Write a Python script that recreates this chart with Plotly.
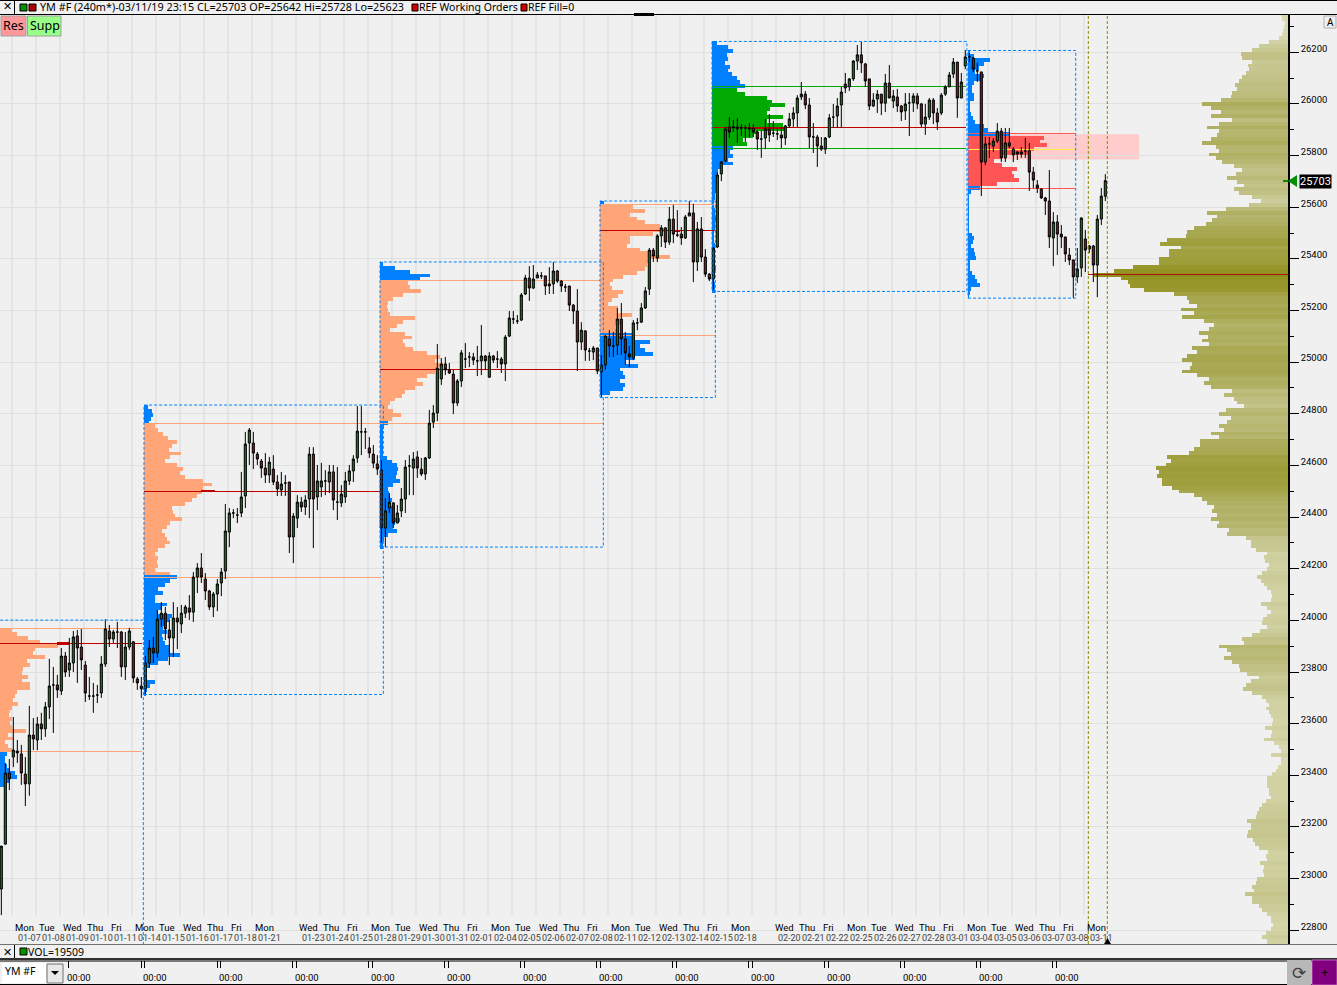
import math
import plotly.graph_objects as go

# ---------- candles (YM #F 240m) ----------
opens = [22960,23134,23409,23471,23494,23483,23405,23367,23556,23537,
23599,23580,23665,23750,23750,23727,23862,23808,23835,23940,
23897,23827,23707,23707,23711,23719,23831,23959,23928,23955,
23955,23820,23897,23917,23773,23746,23735,23835,23893,23874,
24005,24028,23963,23932,24009,23986,24028,24048,24032,24168,
24203,24160,24114,24052,24102,24145,24191,24342,24416,24408,
24416,24482,24687,24687,24644,24617,24590,24563,24586,24536,
24505,24532,24536,24323,24396,24458,24439,24470,24644,24478,
24517,24540,24536,24575,24458,24455,24478,24540,24579,24629,
24730,24730,24668,24644,24606,24582,24358,24435,24455,24377,
24424,24470,24598,24590,24633,24586,24567,24629,24768,24803,
24935,24993,24970,24954,24842,24927,25012,25020,25020,25005,
25005,25024,24942,25024,25012,25012,24993,25101,25167,25159,
25163,25264,25326,25287,25326,25334,25334,25303,25303,25353,
25314,25291,25295,25221,25198,25078,25121,25043,25039,25055,
24962,24989,25090,25063,25066,25167,25090,25032,25016,25152,
25155,25210,25283,25434,25403,25489,25520,25465,25554,25492,
25496,25481,25566,25578,25388,25516,25407,25341,25322,25446,
25729,25779,25911,25907,25911,25907,25907,25907,25907,25891,
25864,25868,25903,25887,25884,25880,25868,25915,25942,25965,
26027,26038,25996,25872,25872,25837,25825,25872,25949,25953,
25996,26077,26066,26097,26166,26190,26155,26097,25992,26019,
26038,26003,26081,26011,26027,25992,25973,26004,26004,26031,
26000,25922,25949,26015,25965,25965,26038,26066,26116,26162,
26023,26147,26182,26178,26128,26124,25775,25845,25837,25856,
25895,25791,25849,25825,25806,25814,25818,25818,25736,25686,
25670,25636,25624,25481,25543,25496,25485,25415,25396,25330,
25365,25477,25438,25450,25376,25554,25643]
highs = [23126,23448,23463,23626,23537,23518,23471,23669,23622,23626,
23642,23684,23851,23820,23789,23893,23878,23932,23959,23963,
23967,23843,23781,23758,23750,23862,24005,23982,23963,23994,
23959,23955,23971,23920,23781,23781,23862,23924,23936,24040,
24071,24052,24002,24071,24052,24060,24060,24098,24187,24222,
24261,24183,24118,24110,24160,24203,24451,24435,24431,24435,
24575,24730,24745,24730,24652,24625,24648,24633,24640,24563,
24575,24563,24536,24416,24485,24478,24485,24671,24671,24602,
24610,24582,24602,24602,24594,24524,24575,24602,24640,24830,
24830,24745,24710,24679,24640,24621,24474,24493,24458,24447,
24513,24621,24640,24652,24656,24629,24633,24815,24834,25070,
25016,25020,24997,24970,24935,25047,25074,25039,25036,25063,
25144,25028,25039,25028,25043,25020,25105,25198,25198,25183,
25268,25338,25372,25376,25349,25349,25334,25368,25388,25357,
25318,25303,25295,25225,25283,25155,25124,25055,25063,25055,
25028,25105,25124,25117,25210,25229,25117,25063,25163,25171,
25229,25291,25442,25442,25496,25531,25523,25601,25609,25589,
25523,25570,25624,25613,25543,25562,25438,25345,25446,25736,
25779,25911,25949,25938,25945,25922,25918,25926,25922,25899,
25899,25942,25961,25934,25907,25911,25918,25965,25988,26034,
26085,26050,26023,25926,25880,25872,25872,25961,26000,26023,
26066,26120,26100,26170,26228,26240,26159,26097,26042,26054,
26038,26116,26151,26054,26058,25996,26042,26042,26042,26042,
26004,26000,26023,26023,25984,26042,26073,26124,26178,26162,
26120,26209,26197,26182,26159,26124,25872,25872,25868,25926,
25907,25907,25907,25833,25818,25833,25868,25849,25756,25705,
25674,25640,25744,25581,25570,25531,25485,25442,25396,25442,
25562,25512,25454,25454,25570,25674,25728]
lows = [22859,23130,23343,23432,23448,23363,23281,23321,23498,23498,
23537,23549,23618,23564,23700,23711,23781,23781,23800,23758,
23808,23684,23692,23642,23680,23700,23820,23897,23913,23893,
23781,23769,23886,23758,23731,23700,23711,23816,23835,23855,
23975,23924,23827,23858,23889,23951,24009,24002,23994,24106,
24145,24079,24040,24013,24036,24094,24160,24284,24396,24377,
24400,24435,24602,24586,24602,24552,24532,24532,24524,24482,
24482,24482,24261,24222,24358,24420,24408,24396,24280,24427,
24478,24485,24493,24427,24389,24439,24455,24524,24536,24610,
24640,24664,24629,24590,24563,24300,24284,24416,24358,24377,
24400,24416,24485,24485,24552,24559,24544,24625,24745,24772,
24912,24950,24954,24799,24830,24904,24977,24981,24989,24946,
24950,24970,24939,24997,24977,24958,24927,25097,25148,25148,
25159,25260,25237,25283,25326,25322,25260,25264,25264,25307,
25272,25272,25198,25148,24966,25047,25005,25005,25008,24954,
24865,24970,25020,25020,25028,25028,24989,24981,25008,25124,
25152,25206,25260,25388,25388,25446,25442,25454,25461,25485,
25454,25477,25566,25310,25353,25388,25330,25314,25279,25442,
25701,25775,25868,25891,25849,25876,25853,25872,25872,25822,
25791,25825,25853,25872,25860,25829,25841,25907,25911,25911,
26015,25980,25829,25810,25756,25818,25806,25868,25907,25907,
25907,26042,26050,26089,26131,26120,26066,25976,25988,25965,
25957,25969,26023,25984,25969,25934,25938,25876,25969,25980,
25911,25880,25938,25922,25899,25957,26031,26066,26100,25946,
26023,26135,26162,26124,26085,25643,25763,25791,25814,25849,
25775,25775,25829,25775,25783,25791,25791,25663,25674,25655,
25632,25570,25442,25372,25415,25442,25388,25376,25249,25307,
25330,25349,25423,25310,25252,25531,25624]
closes = [23126,23409,23386,23498,23487,23409,23367,23556,23541,23599,
23580,23665,23746,23750,23731,23862,23800,23835,23936,23893,
23847,23719,23707,23707,23711,23831,23967,23928,23955,23955,
23820,23897,23959,23777,23758,23735,23835,23893,23874,24005,
24028,23967,23932,24009,23994,24028,24052,24032,24168,24203,
24168,24114,24052,24102,24141,24187,24346,24416,24416,24408,
24478,24683,24737,24648,24625,24590,24563,24613,24536,24509,
24528,24532,24323,24404,24458,24439,24466,24644,24470,24540,
24540,24540,24575,24466,24458,24489,24540,24579,24625,24733,
24730,24730,24648,24609,24586,24358,24424,24458,24377,24416,
24470,24594,24598,24625,24590,24567,24629,24764,24803,24977,
24993,24970,24958,24842,24927,25036,25012,25020,25008,25005,
25024,25005,25024,25008,25012,24993,25097,25171,25167,25159,
25260,25326,25287,25322,25338,25334,25295,25295,25353,25314,
25295,25291,25221,25198,25078,25124,25047,25043,25055,24966,
24989,25101,25063,25063,25167,25090,25036,25020,25152,25152,
25210,25276,25434,25411,25489,25520,25465,25554,25496,25492,
25481,25562,25578,25388,25516,25407,25341,25322,25442,25725,
25775,25903,25891,25911,25903,25907,25907,25903,25891,25864,
25864,25903,25880,25887,25884,25868,25915,25942,25965,26023,
26038,25996,25872,25872,25837,25825,25868,25946,25949,25992,
26046,26062,26097,26166,26190,26159,26089,25992,26015,26038,
26003,26081,26023,26031,25992,25969,26000,26004,26031,26000,
25922,25949,26015,25965,25930,26034,26066,26112,26162,26023,
26085,26182,26182,26135,26128,25775,25845,25845,25856,25895,
25791,25849,25837,25802,25814,25806,25818,25736,25705,25674,
25636,25624,25485,25543,25496,25485,25419,25396,25330,25361,
25558,25434,25450,25376,25554,25643,25703]

# ---------- weekly volume-profile sessions ----------
bin_size = 15
session_start = [-0.33, 35.67, 94.67, 149.67, 177.67, 241.67]
session_end = [35.2, 94.9, 150.3, 178.3, 241.2, 268.5]
box_left = [-3, 35.67, 94.67, 149.67, 177.67, 241.67]
box_right = [35.5, 95.5, 150.5, 178.5, 241.4, 268.6]
box_high = [24001, 24834, 25388, 25624, 26242, 26207]
box_low = [22700, 23713, 24284, 24863, 25274, 25248]
profile_high = [23970, 24834, 25388, 25624, 26242, 26207]
value_high = [23970, 24764, 25318, 25609, 26066, 25884]
poc_price = [23912, 24501, 24973, 25508, 25907, 25825]
value_low = [23494, 24168, 24764, 25105, 25829, 25674]
poc_mark_start = [13.9, 49.9, None, 167.9, 186.4, None]
poc_mark_end = [16.9, 53.4, None, 169.7, 195.9, None]
value_fill = ['#ffa578', '#ffa578', '#ffa578', '#ffa578', '#00aa00', '#ff5555']
level_line = ['#ffa578', '#ffa578', '#ffa578', '#ffa578', '#00aa00', '#ff5555']
poc_line = ['#c00000', '#c00000', '#c00000', '#c00000', '#c00000', '#ffee44']
outside_fill = '#0080ff'

session_volumes = [
 [12,17,28,40,58,35,33,45,27,30,23,22,28,22,30,30,17,15,13,18,12,10,9,12,10,12,26,8,13,5,8,12,7,5,5,7,10,15,17,10,4],
 [4,8,9,7,5,11,14,19,24,33,28,25,37,26,21,33,39,36,41,59,68,59,58,53,48,41,28,29,31,38,26,23,18,21,23,26,21,14,11,14,13,14,11,26,33,26,21,14,19,11,11,23,18,14,28,26,21,19,23,18,19,21,26,26,36,24,14,6,3,2,3,11,6,3,2],
 [3,15,30,50,40,28,30,41,23,13,8,7,8,10,35,23,17,10,25,32,23,25,33,47,60,55,63,58,55,47,37,43,35,25,22,15,10,8,13,21,12,8,4,3,3,3,3,3,3,3,7,12,17,18,17,16,20,13,8,9,10,12,10,15,13,12,20,15,13,17,8,4,3,3],
 [4,33,45,30,37,45,60,65,53,30,30,27,40,50,70,48,47,45,37,23,13,10,12,23,18,12,8,18,17,32,20,23,15,18,33,35,50,40,45,53,35,25,38,20,23,25,20,25,23,10],
 [5,16,21,15,16,13,18,16,20,25,28,33,25,33,55,60,73,58,55,71,55,71,73,46,41,31,35,21,18,21,16,21,10,6,6,5,5,4,4,3,3,2,2,3,3,4,3,3,3,2,2,2,3,3,2,2,3,3,4,3,3,2,3,3,3],
 [2,6,22,16,11,7,16,14,6,4,4,6,6,2,2,2,3,5,7,16,20,41,76,72,79,66,62,34,26,34,49,44,46,51,29,12,3,1,1,1,1,1,1,1,1,1,1,4,6,5,3,6,7,8,2,2,2,4,7,9,12,3,2,1],
]

# ---------- whole-chart volume profile at the right edge ----------
whole_top = 26344
whole_poc = 25338
whole_poc_start = 271.75
whole_volume = [7,6,3,4,5,6,9,19,29,36,47,46,36,40,39,42,46,49,53,51,56,57,67,86,77,67,77,56,69,81,69,71,77,86,72,69,79,72,66,54,46,52,61,51,44,54,49,36,27,39,62,81,71,76,82,94,101,102,121,128,107,119,119,129,129,155,174,194,167,160,158,144,114,101,99,91,107,94,106,84,74,
 79,89,80,86,79,96,91,101,106,96,98,106,91,79,84,77,56,64,54,51,44,62,69,57,61,69,64,77,69,88,88,94,99,121,117,122,132,129,131,126,126,116,109,94,86,81,74,76,71,77,69,71,59,61,42,37,37,32,21,24,23,19,21,26,31,27,24,21,17,16,17,27,21,17,21,25,26,21,28,36,46,
 44,69,61,57,64,56,49,48,41,29,37,42,45,36,26,22,19,22,19,17,15,16,23,16,17,24,14,9,7,17,7,7,10,12,16,21,21,21,19,19,17,22,26,29,31,32,41,37,37,40,41,35,33,29,20,22,21,28,24,25,24,31,32,36,34,43,36,36,29,26,21,17,17,15,17,22,26,21,21,29]

# ---------- resistance zone, time axis ----------
zone_high, zone_low = 25883, 25785
zone_start, zone_end = 241.67, 284.5
date_bars = [7,13,19,25,31,37,43,49,55,61,67,78,84,90,96,102,108,114,120,126,132,138,144,150,156,162,168,174,180,186,197,203,209,215,221,227,233,239,245,251,257,263,269,275]
date_labels = ['01-07','01-08','01-09','01-10','01-11','01-14','01-15','01-16','01-17','01-18','01-21','01-23','01-24','01-25','01-28','01-29','01-30','01-31','02-01','02-04','02-05','02-06','02-07','02-08','02-11','02-12','02-13','02-14','02-15','02-18','02-20','02-21','02-22','02-25','02-26','02-27','02-28','03-01','03-04','03-05','03-06','03-07','03-08','03-11']
day_labels = ['Mon','Tue','Wed','Thu','Fri','Mon','Tue','Wed','Thu','Fri','Mon','Wed','Thu','Fri','Mon','Tue','Wed','Thu','Fri','Mon','Tue','Wed','Thu','Fri','Mon','Tue','Wed','Thu','Fri','Mon','Wed','Thu','Fri','Mon','Tue','Wed','Thu','Fri','Mon','Tue','Wed','Thu','Fri','Mon']
grid_bars = [2.67,8.67,14.67,20.67,26.67,32.67,38.67,44.67,50.67,56.67,62.67,67.67,73.67,79.67,85.67,91.67,97.67,103.67,109.67,115.67,121.67,127.67,133.67,139.67,145.67,151.67,157.67,163.67,169.67,175.67,181.67,187.67,193.67,199.67,205.67,210.67,216.67,222.67,228.67,234.67,240.67,246.67,252.67,258.67,264.67,270.67]
marker_bars = [271.75, 276.5]
last_price = 25703
grid_price_low = 26402.5 - 3.8725 * 915

W, H = 1337, 985
LEFT_PLOT, RIGHT_PLOT, TOP_PLOT, BOTTOM_PLOT = 0, 1288, 15, 944
Y_MIN, Y_MAX = 22746.9, 26344.4
FONT = 'Noto Sans'
AXFONT = 'Roboto'
PTS_PER_PX = (Y_MAX - Y_MIN) / (BOTTOM_PLOT - TOP_PLOT)
def fx(p): return p / RIGHT_PLOT
def fy(p): return (BOTTOM_PLOT - p) / (BOTTOM_PLOT - TOP_PLOT)
def pixel_centre(price):
    # thin level lines sit in the middle of one pixel row so they render 1 px high
    row = math.floor((Y_MAX - price) / PTS_PER_PX)
    return Y_MAX - (row + 0.5) * PTS_PER_PX

traces = []
for k, vols in enumerate(session_volumes):
    centres = [profile_high[k] - bin_size / 2 - bin_size * j for j in range(len(vols))]
    colors = [value_fill[k] if value_low[k] + 3 < c < value_high[k] else outside_fill for c in centres]
    traces.append(go.Bar(orientation='h', y=centres, x=[v / 4 for v in vols], base=session_start[k],
                         width=bin_size, marker=dict(color=colors, line=dict(width=0)), hoverinfo='skip'))
centres = [whole_top - bin_size * j for j in range(len(whole_volume))]
traces.append(go.Bar(orientation='h', y=centres, x=[-v / 4 for v in whole_volume], base=321.67,
                     width=bin_size,
                     marker=dict(color=whole_volume, cmin=0, cmax=200, line=dict(width=0),
                                 colorscale=[[0, '#dcdcb6'], [0.25, '#c0c084'], [0.45, '#abab58'], [0.7, '#9a9a32'], [1, '#8e8e18']]),
                     hoverinfo='skip'))
def level(price, a, b, color):
    traces.append(go.Bar(orientation='h', y=[pixel_centre(price)], x=[b - a], base=a, width=2.4,
                         marker=dict(color=color, line=dict(width=0)), hoverinfo='skip'))
for k in range(6):
    a, b = session_start[k], session_end[k]
    level(value_high[k], a, b, level_line[k])
    level(value_low[k], a, b, level_line[k])
    level(poc_price[k], a, b, poc_line[k])
    if poc_mark_start[k] is not None:
        traces.append(go.Bar(orientation='h', y=[poc_price[k]], x=[poc_mark_end[k] - poc_mark_start[k]], base=poc_mark_start[k],
                             width=7, marker=dict(color=poc_line[k], line=dict(width=0)), hoverinfo='skip'))
level(whole_poc, whole_poc_start, 321.67, '#b01010')

traces.append(go.Candlestick(x=list(range(len(opens))), open=opens, high=highs, low=lows, close=closes,
    increasing=dict(line=dict(color='#000000', width=1), fillcolor='#0c860c'),
    decreasing=dict(line=dict(color='#000000', width=1), fillcolor='#a81010'),
    whiskerwidth=0, hoverinfo='skip'))

fig = go.Figure(traces)

shapes = []
for b in grid_bars:
    shapes.append(dict(type='line', xref='x', yref='y', x0=b, x1=b, y0=grid_price_low, y1=whole_top + 50,
                       line=dict(color='#e4e4e4', width=2), layer='below'))
shapes.append(dict(type='rect', xref='x', yref='y', x0=zone_start, x1=zone_end, y0=zone_low, y1=zone_high,
                   fillcolor='#ffcccc', line=dict(width=0), layer='below'))
for k in range(6):
    shapes.append(dict(type='rect', xref='x', yref='y', x0=box_left[k], x1=box_right[k], y0=box_low[k], y1=box_high[k],
                       line=dict(color='#0080ff', width=1, dash='3px,2px'), layer='above'))
for b in marker_bars:
    shapes.append(dict(type='line', xref='x', yref='paper', x0=b, x1=b, y0=0, y1=1,
                       line=dict(color='#8a8a00', width=1, dash='3px,2px'), layer='above'))

def rect(x0, y0, x1, y1, fill, line=None, lw=1):
    shapes.append(dict(type='rect', xref='paper', yref='paper', x0=fx(x0), x1=fx(x1), y0=fy(y1), y1=fy(y0),
                       fillcolor=fill, line=dict(color=line or fill, width=lw if line else 0), layer='above'))
def hline(x0, x1, y, color='#000000', w=1):
    shapes.append(dict(type='line', xref='paper', yref='paper', x0=fx(x0), x1=fx(x1), y0=fy(y), y1=fy(y),
                       line=dict(color=color, width=w), layer='above'))
def vline(x, y0, y1, color='#000000', w=1):
    shapes.append(dict(type='line', xref='paper', yref='paper', x0=fx(x), x1=fx(x), y0=fy(y0), y1=fy(y1),
                       line=dict(color=color, width=w), layer='above'))
def tri(points, fill):
    path = 'M ' + ' L '.join(f'{fx(x):.5f} {fy(y):.5f}' for x, y in points) + ' Z'
    shapes.append(dict(type='path', xref='paper', yref='paper', path=path, fillcolor=fill, line=dict(width=0), layer='above'))

rect(0, 0, W, 14, '#f0f0f0')
hline(0, W, 0.5); hline(0, W, 14.5)
vline(14.5, 0, 14.5)
rect(20, 4, 27, 11, '#009000', '#000000')
rect(29, 4, 36, 11, '#b00000', '#000000')
rect(412, 4, 418, 11, '#d00000', '#000000')
rect(521, 4, 527, 11, '#d00000', '#000000')
rect(634, 13, 654, 16, '#000000')
rect(1, 16, 26, 36, '#ff9999', '#a0a0a0')
rect(27.5, 16, 61, 36, '#99ff88', '#a0a0a0')
rect(0, 944.5, W, 985, '#f0f0f0')
hline(0, W, 944.5, '#707070', 1)
vline(14.5, 945, 958)
rect(20, 948, 27, 955, '#009000', '#000000')
hline(0, W, 959, '#303030', 2)
hline(0, W, 961, '#000000', 1)
hline(0, W, 984.5, '#000000', 1)
rect(2, 963, 46, 983, '#ffffff')
rect(47, 964, 63, 983, '#e8e8e8', '#707070')
tri([(51, 971), (59, 971), (55, 975)], '#000000')
rect(1287, 960, 1311, 985, '#b8b8b8')
rect(1312, 960, 1337, 985, '#800080', '#c060c0')
rect(1324, 16, 1336, 28, '#f0f0f0', '#b0b0b0')
for x in [68, 141, 144, 217, 220, 292, 296, 368, 372, 444, 448, 520, 524, 596, 600, 672, 676, 748, 752, 824, 828, 900, 904, 976, 980, 1052, 1056]:
    vline(x + 0.5, 961, 968)
hline(1283, 1288, 181, '#009000', 2)
tri([(1288, 181), (1297, 175), (1297, 187)], '#009000')
tri([(1104, 944), (1111, 944), (1107.5, 938)], '#000000')

anns = []
def note(x, y, text, size=10, color='#000000', anchor='left', bg=None, family=FONT):
    a = dict(xref='paper', yref='paper', x=fx(x), y=fy(y), text=text, showarrow=False, xanchor=anchor, yanchor='middle',
             font=dict(family=family, size=size, color=color), borderpad=0)
    if bg: a['bgcolor'] = bg
    anns.append(a)

note(7.5, 7, '✕', 11, anchor='center', family='DejaVu Sans')
note(39, 7, 'YM #F (240m*)-03/11/19 23:15 CL=25703 OP=25642 Hi=25728 Lo=25623', 10.8)
note(418, 7, 'REF Working Orders', 10.5)
note(527, 7, 'REF Fill=0', 10.5)
note(13.5, 26, 'Res', 12.5, anchor='center')
note(44.5, 26, 'Supp', 12.5, anchor='center')
note(7.5, 952, '✕', 11, anchor='center', family='DejaVu Sans')
note(27, 952, 'VOL=19509', 10.5)
note(4, 971, 'YM #F', 10.5)
for x in range(66, 1055, 76):
    note(x, 977.5, '00:00', 9.5, family=AXFONT)
note(1299, 972.5, '⟳', 17, '#404040', 'center', family='DejaVu Sans')
note(1324.5, 972, '+', 13, '#000000', 'center')
note(1330, 22, 'A', 10, anchor='center')
note(1315, 181, '25703', 11, '#ffffff', 'center', bg='#000000', family=AXFONT)
for b, d in zip(date_bars, day_labels):
    anns.append(dict(xref='x', yref='paper', x=b, y=fy(927), text=d, showarrow=False, xanchor='left', xshift=-16,
                     yanchor='middle', font=dict(family=AXFONT, size=9.5, color='#000000')))

fig.update_layout(
    width=W, height=H, autosize=False,
    margin=dict(l=LEFT_PLOT, r=W - RIGHT_PLOT, t=TOP_PLOT, b=H - BOTTOM_PLOT, pad=0),
    paper_bgcolor='#f0f0f0', plot_bgcolor='#f0f0f0',
    showlegend=False, barmode='overlay', bargap=0, boxgap=0.25, boxmode='overlay',
    shapes=shapes, annotations=anns,
    font=dict(family=FONT, size=10, color='#000000'),
    xaxis=dict(range=[-0.333, 321.67], type='linear', rangeslider=dict(visible=False), showgrid=False, zeroline=False,
               tickmode='array', tickvals=date_bars, ticktext=date_labels, tickangle=0, ticks='',
               ticklabelposition='inside', ticklabeloverflow='allow', ticklabelstandoff=-2, showline=False,
               tickfont=dict(family=AXFONT, size=9)),
    yaxis=dict(range=[Y_MIN, Y_MAX], side='right', tick0=22800, dtick=200, ticks='outside', ticklen=9, tickwidth=1,
               tickcolor='#000000', showline=True, linecolor='#000000', linewidth=1.5, zeroline=False,
               gridcolor='#e0e0e0', gridwidth=1, tickformat='d', ticklabelshift=-4, tickfont=dict(family=AXFONT, size=9.5),
               minor=dict(dtick=100, tick0=22700, ticks='outside', ticklen=4, tickcolor='#000000', showgrid=False)),
)
fig.write_html('out.html', config=dict(displayModeBar=False),
               post_script="document.body.style.margin='0';document.body.style.overflow='hidden';")
